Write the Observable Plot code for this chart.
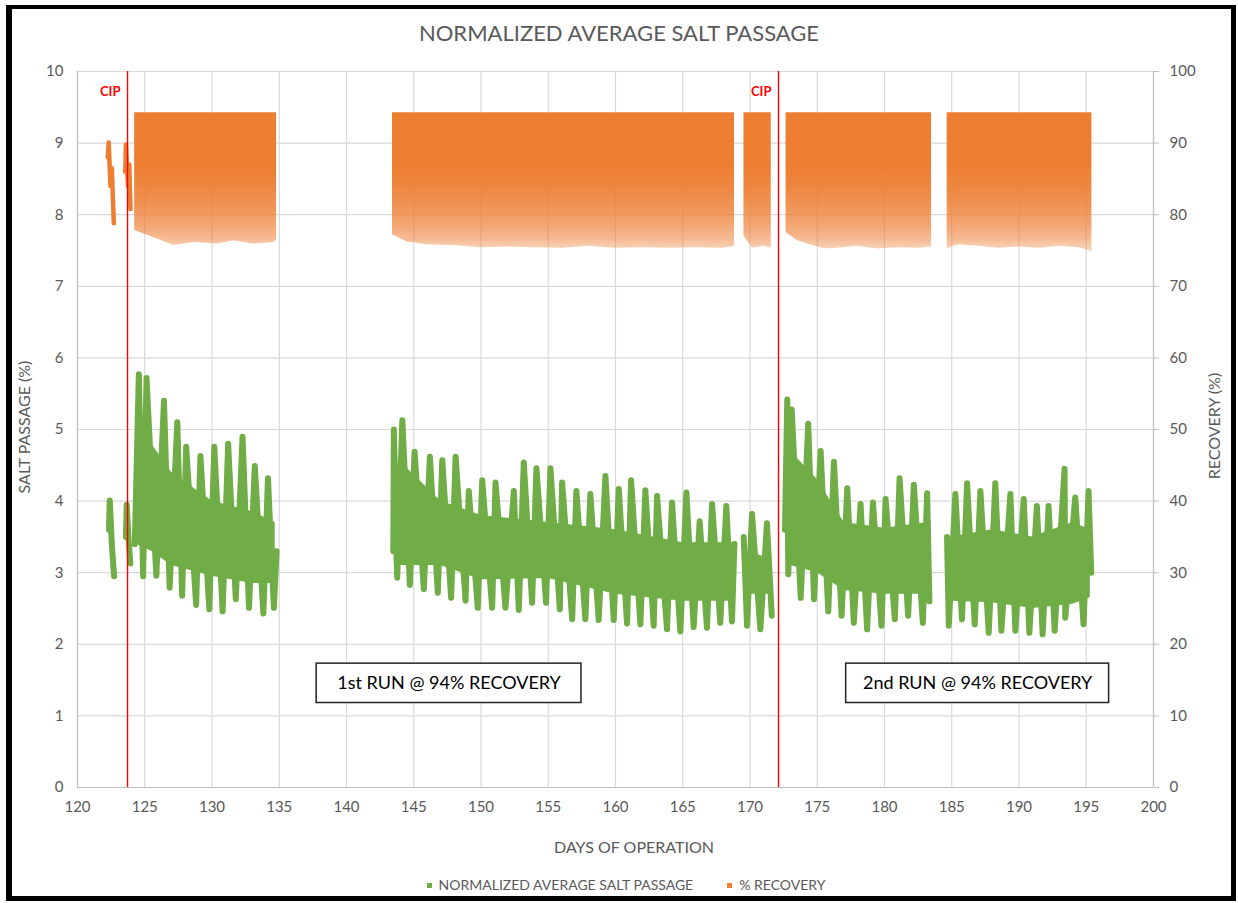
<!DOCTYPE html>
<html>
<head>
<meta charset="utf-8">
<script src="https://cdn.jsdelivr.net/npm/d3@7"></script>
<script src="https://cdn.jsdelivr.net/npm/@observablehq/plot@0.6"></script>
<style>
html, body { margin: 0; padding: 0; background: #fff; }
#wrap { position: relative; width: 1238px; height: 903px; overflow: hidden; font-family: Lato, "Open Sans", sans-serif; color: #595959; }
#chart { position: absolute; left: 0; top: 0; }
#frame { position: absolute; left: 6px; top: 5px; width: 1230px; height: 896px; box-sizing: border-box; border-style: solid; border-color: #000; border-width: 4px 5px 5px 6px; pointer-events: none; }
#title { position: absolute; left: 0; width: 1238px; top: 19px; text-align: center; font-size: 22px; line-height: 28px; }
#xlabel { position: absolute; left: 0; width: 1268px; top: 837px; text-align: center; font-size: 16px; line-height: 20px; }
.ylab { position: absolute; width: 300px; text-align: center; font-size: 16px; line-height: 20px; transform: rotate(-90deg); }
#legend { position: absolute; left: 0; width: 1252px; top: 876px; display: flex; justify-content: center; gap: 34px; font-size: 14px; line-height: 18px; }
#legend span.sw { display: inline-block; width: 5px; height: 5px; margin-right: 7px; vertical-align: middle; position: relative; top: -1px; }
</style>
</head>
<body>
<div id="wrap">
  <div id="chart"></div>
  <div id="title">NORMALIZED AVERAGE SALT PASSAGE</div>
  <div id="xlabel">DAYS OF OPERATION</div>
  <div class="ylab" style="left:-126px; top:417px;">SALT PASSAGE (%)</div>
  <div class="ylab" style="left:1064px; top:416px;">RECOVERY (%)</div>
  <div id="legend"></div>
  <div id="frame"></div>
</div>
<script>
// ---------- tick labels ----------
const xTicks = [120, 125, 130, 135, 140, 145, 150, 155, 160, 165, 170, 175, 180, 185, 190, 195, 200];
const yTicks = [0, 1, 2, 3, 4, 5, 6, 7, 8, 9, 10];
const recoveryTickLabels = ["0", "10", "20", "30", "40", "50", "60", "70", "80", "90", "100"];

// ---------- series names ----------
const seriesNames = ["NORMALIZED AVERAGE SALT PASSAGE", "% RECOVERY"];
const seriesColors = ["#70AD47", "#ED7D31"];

// ---------- normalized average salt passage (%): [day, value] read as daily highs / lows ----------
const saltSegA = [[122.34, 3.6], [122.40, 4.01], [122.55, 3.4], [122.72, 2.95]];
const saltSegB = [[123.60, 3.5], [123.66, 3.95], [123.80, 3.45], [123.93, 3.13]];
const saltRun1 = [[124.26, 3.4], [124.56, 5.77], [124.88, 2.95], [125.13, 5.72], [125.86, 2.96], [126.43, 5.40],
  [126.85, 2.79], [127.42, 5.10], [127.78, 2.68], [128.08, 4.76], [128.82, 2.55], [129.14, 4.63], [129.80, 2.49],
  [130.17, 4.76], [130.79, 2.46], [131.20, 4.80], [131.77, 2.63], [132.27, 4.90], [132.75, 2.51], [133.18, 4.49],
  [133.82, 2.43], [134.16, 4.32], [134.60, 2.51], [134.80, 3.3]];
const saltRun2 = [[143.48, 3.3], [143.52, 5.00], [143.77, 2.93], [144.15, 5.13], [144.71, 2.83], [145.06, 4.69],
  [145.75, 2.77], [146.20, 4.62], [146.79, 2.72], [147.12, 4.57], [147.78, 2.65], [148.11, 4.62], [148.85, 2.61],
  [149.09, 4.14], [149.76, 2.51], [150.09, 4.29], [150.83, 2.51], [151.08, 4.26], [151.82, 2.51], [152.44, 4.14],
  [152.81, 2.48], [153.18, 4.54], [153.80, 2.58], [154.12, 4.46], [154.84, 2.58], [155.16, 4.46], [155.86, 2.49],
  [156.03, 4.26], [156.78, 2.35], [157.09, 4.14], [157.76, 2.35], [158.13, 4.10], [158.75, 2.34], [159.25, 4.35],
  [159.87, 2.34], [160.24, 4.17], [160.86, 2.29], [161.16, 4.29], [161.85, 2.28], [162.22, 4.15], [162.84, 2.26],
  [163.09, 4.07], [163.83, 2.21], [164.20, 3.98], [164.82, 2.18], [165.27, 4.12], [165.81, 2.24], [166.26, 3.72],
  [166.80, 2.23], [167.18, 3.96], [167.79, 2.30], [168.24, 3.93], [168.66, 2.32], [168.84, 3.4]];
const saltSegC = [[169.53, 3.5], [169.78, 2.26], [170.15, 3.82], [170.77, 2.21], [171.26, 3.69], [171.62, 2.4]];
const saltRun3 = [[172.60, 3.6], [172.77, 5.42], [172.85, 2.98], [173.10, 5.28], [173.77, 2.65], [174.33, 5.08],
  [174.76, 2.63], [175.25, 4.70], [175.82, 2.46], [176.24, 4.55], [176.81, 2.40], [177.23, 4.18], [177.72, 2.30],
  [178.22, 3.96], [178.71, 2.21], [179.14, 3.98], [179.78, 2.26], [180.08, 4.03], [180.77, 2.35], [181.12, 4.32],
  [181.76, 2.40], [182.18, 4.23], [182.85, 2.30], [183.17, 4.11], [183.34, 2.6]];
const saltRun4 = [[184.65, 3.5], [184.78, 2.26], [185.27, 4.10], [185.76, 2.35], [186.14, 4.25], [186.71, 2.28],
  [187.13, 4.14], [187.75, 2.16], [188.24, 4.25], [188.69, 2.19], [189.36, 4.10], [189.73, 2.19], [190.35, 4.03],
  [190.77, 2.16], [191.33, 3.93], [191.76, 2.14], [192.20, 3.93], [192.65, 2.19], [193.39, 4.45], [193.44, 2.37],
  [194.18, 4.05], [194.80, 2.28], [195.17, 4.14], [195.37, 3.0]];

// dense core of the salt-passage cloud: [day, low, high]
const saltCoreRun1 = [[124.35, 3.4, 4.8], [125.5, 3.3, 4.8], [127.0, 3.1, 4.4], [130.0, 2.95, 4.0], [133.0, 2.85, 3.85], [134.7, 2.85, 3.7]];
const saltCoreRun2 = [[143.55, 3.1, 4.5], [144.0, 3.1, 4.55], [147.0, 3.1, 4.0], [150.0, 2.9, 3.8], [155.0, 2.92, 3.7],
  [160.0, 2.7, 3.6], [165.0, 2.6, 3.42], [168.75, 2.6, 3.42]];
const saltCoreC = [[169.6, 2.7, 3.3], [171.55, 2.7, 3.2]];
const saltCoreRun3 = [[172.68, 3.2, 4.5], [173.0, 3.1, 4.7], [175.0, 3.0, 4.3], [177.0, 2.75, 3.7], [180.0, 2.7, 3.62], [183.28, 2.7, 3.7]];
const saltCoreRun4 = [[184.72, 2.62, 3.42], [185.0, 2.6, 3.5], [188.0, 2.58, 3.6], [191.0, 2.5, 3.5], [194.0, 2.56, 3.7], [195.3, 2.65, 3.6]];

// ---------- % recovery ----------
// short start-up segments: [day, %]
const recSegA = [[122.25, 88.0], [122.32, 90.1], [122.45, 84.0], [122.55, 86.5], [122.70, 78.8]];
const recSegB = [[123.55, 86.0], [123.60, 89.8], [123.75, 84.0], [123.85, 87.0], [123.94, 80.8]];
// main runs: recovery capped at the 94 % set point, lowest readings [day, %]
const recoveryCap = 94;
const recRun1 = [[124.25, 77.8], [124.95, 77.3], [125.94, 76.6], [127.17, 75.7], [128.66, 76.1], [130.40, 75.9],
  [131.63, 76.35], [133.12, 75.9], [134.60, 76.1], [134.80, 76.5]];
const recRun2 = [[143.42, 77.2], [144.50, 76.2], [146.00, 75.8], [148.00, 75.7], [150.00, 75.4], [152.00, 75.5],
  [154.00, 75.4], [156.00, 75.3], [158.00, 75.6], [160.00, 75.3], [162.00, 75.4], [164.00, 75.3], [166.00, 75.4],
  [168.00, 75.3], [168.85, 75.6]];
const recSegC = [[169.55, 77.0], [170.20, 75.3], [171.00, 75.6], [171.58, 75.3]];
const recRun3 = [[172.68, 77.5], [173.50, 76.4], [174.50, 75.8], [175.50, 75.2], [176.50, 75.3], [178.00, 75.6],
  [179.50, 75.2], [181.00, 75.4], [182.50, 75.3], [183.50, 75.5]];
const recRun4 = [[184.66, 75.2], [185.50, 75.8], [187.00, 75.6], [188.50, 75.3], [190.00, 75.5], [191.50, 75.3],
  [193.00, 75.6], [194.50, 75.4], [195.42, 74.8]];

// ---------- events & annotations ----------
const cipDays = [123.72, 172.12];
const cipLabel = "CIP";
const runLabels = ["1st RUN @ 94% RECOVERY", "2nd RUN @ 94% RECOVERY"];
const runBoxX1 = [137.78, 177.15];
const runBoxX2 = [157.47, 196.70];
const runBoxY1 = [1.18, 1.18];
const runBoxY2 = [1.73, 1.73];

// ---------- build tables ----------
const saltRows = [["A", saltSegA], ["B", saltSegB], ["1", saltRun1], ["2", saltRun2], ["C", saltSegC], ["3", saltRun3], ["4", saltRun4]]
  .flatMap(([seg, arr]) => arr.map(([day, v]) => ({seg, day, v})));
const saltCoreRows = [["1", saltCoreRun1], ["2", saltCoreRun2], ["C", saltCoreC], ["3", saltCoreRun3], ["4", saltCoreRun4]]
  .flatMap(([seg, arr]) => arr.map(([day, lo, hi]) => ({seg, day, lo, hi})));
const recLineRows = [["A", recSegA], ["B", recSegB]]
  .flatMap(([seg, arr]) => arr.map(([day, r]) => ({seg, day, r})));
const recAreaRows = [["1", recRun1], ["2", recRun2], ["C", recSegC], ["3", recRun3], ["4", recRun4]]
  .flatMap(([seg, arr]) => arr.map(([day, lo]) => ({seg, day, lo})));
const boxes = runLabels.map((label, i) => ({label, x1: runBoxX1[i], x2: runBoxX2[i], y1: runBoxY1[i], y2: runBoxY2[i]}));

// density of the recovery cloud (dense near the cap, sparse near the lowest readings)
const recDensity = [[94.3, 1], [87, 1], [84, 0.93], [81, 0.82], [78.5, 0.68], [76.5, 0.52], [75, 0.32]];

const gradientMark = (index, scales) => {
  const defs = d3.create("svg:defs");
  const top = recDensity[0][0], bottom = recDensity[recDensity.length - 1][0];
  const g = defs.append("linearGradient").attr("id", "recGrad")
    .attr("gradientUnits", "userSpaceOnUse")
    .attr("x1", 0).attr("x2", 0)
    .attr("y1", scales.y(top / 10)).attr("y2", scales.y(bottom / 10));
  for (const [lvl, op] of recDensity) {
    g.append("stop").attr("offset", (top - lvl) / (top - bottom))
      .attr("stop-color", seriesColors[1]).attr("stop-opacity", op);
  }
  return defs.node();
};

const grid = "#d9d9d9";
const axisCol = "#bfbfbf";

const chart = Plot.plot({
  width: 1238,
  height: 903,
  marginLeft: 77,
  marginRight: 85,
  marginTop: 71,
  marginBottom: 116,
  x: {domain: [120, 200]},
  y: {domain: [0, 10]},
  style: {fontFamily: "Lato, 'Open Sans', sans-serif", fontSize: "15px", color: "#595959", background: "transparent"},
  marks: [
    gradientMark,
    Plot.gridX(xTicks, {stroke: grid, strokeOpacity: 1, strokeWidth: 1.2}),
    Plot.gridY(yTicks, {stroke: grid, strokeOpacity: 1, strokeWidth: 1.2}),
    Plot.ruleX([120, 200], {stroke: axisCol, strokeWidth: 1.2}),
    Plot.ruleY([0], {stroke: axisCol, strokeWidth: 1.2}),
    Plot.axisX({ticks: xTicks, tickSize: 0, tickPadding: 14, label: null}),
    Plot.axisY({ticks: yTicks, tickSize: 0, tickPadding: 14, label: null}),
    Plot.axisY({anchor: "right", ticks: yTicks, tickSize: 5, tickPadding: 11, label: null,
      stroke: axisCol, tickFormat: (d) => recoveryTickLabels[yTicks.indexOf(d)]}),
    // recovery
    Plot.areaY(recAreaRows, {x: "day", y1: d => d.lo / 10, y2: () => (recoveryCap + 0.25) / 10, z: "seg", fill: "url(#recGrad)"}),
    Plot.line(recLineRows, {x: "day", y: d => d.r / 10, z: "seg", stroke: seriesColors[1], strokeWidth: 4.5,
      strokeLinejoin: "round", strokeLinecap: "round"}),
    // salt passage
    Plot.areaY(saltCoreRows, {x: "day", y1: "lo", y2: "hi", z: "seg", fill: seriesColors[0]}),
    Plot.line(saltRows, {x: "day", y: "v", z: "seg", stroke: seriesColors[0], strokeWidth: 6,
      strokeLinejoin: "round", strokeLinecap: "round"}),
    // CIP events
    Plot.ruleX(cipDays, {stroke: "#ff0000", strokeWidth: 1.4}),
    Plot.text(cipDays, {x: d => d, frameAnchor: "top", dy: 15, dx: -7, text: () => cipLabel, textAnchor: "end",
      fill: "#ff0000", fontWeight: "bold", fontSize: 13}),
    // run annotations
    Plot.rect(boxes, {x1: "x1", x2: "x2", y1: "y1", y2: "y2", fill: "white", stroke: "#222", strokeWidth: 1.5}),
    Plot.text(boxes, {x: d => (d.x1 + d.x2) / 2, y: d => (d.y1 + d.y2) / 2, text: "label", fontSize: 18, fill: "#000"})
  ]
});
document.getElementById("chart").appendChild(chart);

const legend = document.getElementById("legend");
seriesNames.forEach((name, i) => {
  const item = document.createElement("div");
  item.innerHTML = `<span class="sw" style="background:${seriesColors[i]}"></span>${name}`;
  legend.appendChild(item);
});
</script>
</body>
</html>
